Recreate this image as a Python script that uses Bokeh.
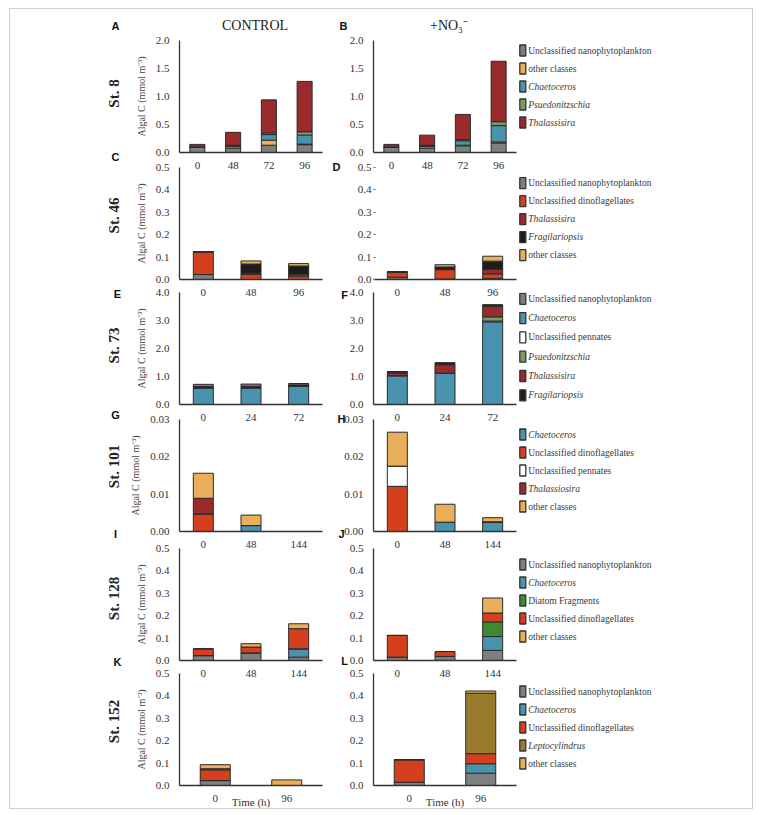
import math
from bokeh.plotting import figure
from bokeh.models import (FactorRange, Range1d, FixedTicker, NumeralTickFormatter,
                          ColumnDataSource)
from bokeh.layouts import row, column
from bokeh.core.properties import value
from bokeh.embed import file_html
from bokeh.resources import INLINE

# ---------------------------------------------------------------- data
# St. 8
st8_times = ["0", "48", "72", "96"]
st8_order = ["nano", "other", "chaet", "pseudo", "thal"]
st8_control = {"nano": [0.10, 0.08, 0.13, 0.14], "other": [0.0, 0.03, 0.09, 0.01],
               "chaet": [0.0, 0.01, 0.10, 0.16], "pseudo": [0.0, 0.01, 0.03, 0.06],
               "thal": [0.045, 0.23, 0.59, 0.90]}
st8_no3 = {"nano": [0.10, 0.08, 0.12, 0.17], "other": [0.0, 0.03, 0.01, 0.02],
           "chaet": [0.0, 0.01, 0.08, 0.29], "pseudo": [0.0, 0.01, 0.02, 0.07],
           "thal": [0.045, 0.18, 0.45, 1.08]}
st8_yticks = [0.0, 0.5, 1.0, 1.5, 2.0]
st8_legend_keys = ["nano", "other", "chaet", "pseudo", "thal"]
st8_legend_labels = ["Unclassified nanophytoplankton", "other classes", "Chaetoceros",
                     "Psuedonitzschia", "Thalassisira"]

# St. 46
st46_times = ["0", "48", "96"]
st46_order = ["nano", "dino", "thal", "frag", "other"]
st46_control = {"nano": [0.022, 0.0, 0.0], "dino": [0.100, 0.024, 0.015],
                "thal": [0.003, 0.005, 0.009], "frag": [0.0, 0.040, 0.036],
                "other": [0.0, 0.014, 0.011]}
st46_no3 = {"nano": [0.010, 0.002, 0.005], "dino": [0.022, 0.042, 0.020],
            "thal": [0.002, 0.002, 0.020], "frag": [0.0, 0.010, 0.037],
            "other": [0.0, 0.010, 0.022]}
st46_yticks = [0.0, 0.1, 0.2, 0.3, 0.4, 0.5]
st46_legend_keys = ["nano", "dino", "thal", "frag", "other"]
st46_legend_labels = ["Unclassified nanophytoplankton", "Unclassified dinoflagellates",
                      "Thalassisira", "Fragilariopsis", " other classes"]

# St. 73
st73_times = ["0", "24", "72"]
st73_order = ["chaet", "penn", "pseudo", "thal", "frag", "nano"]
st73_control = {"chaet": [0.60, 0.60, 0.66], "penn": [0.0, 0.0, 0.0],
                "pseudo": [0.0, 0.0, 0.0], "thal": [0.0, 0.0, 0.0],
                "frag": [0.04, 0.05, 0.04], "nano": [0.08, 0.08, 0.05]}
st73_no3 = {"chaet": [1.03, 1.12, 2.95], "penn": [0.0, 0.0, 0.03],
            "pseudo": [0.0, 0.0, 0.15], "thal": [0.10, 0.30, 0.38],
            "frag": [0.04, 0.06, 0.04], "nano": [0.01, 0.01, 0.01]}
st73_yticks = [0.0, 1.0, 2.0, 3.0, 4.0]
st73_legend_keys = ["nano", "chaet", "penn", "pseudo", "thal", "frag"]
st73_legend_labels = ["Unclassified nanophytoplankton", "Chaetoceros", "Unclassified pennates",
                      "Psuedonitzschia", "Thalassisira", "Fragilariopsis"]

# St. 101
st101_times = ["0", "48", "144"]
st101_order = ["chaet", "dino", "penn", "thal", "other"]
st101_control = {"chaet": [0.0, 0.0016, 0.0], "dino": [0.0047, 0.0, 0.0],
                 "penn": [0.0, 0.0, 0.0], "thal": [0.0042, 0.0, 0.0],
                 "other": [0.0067, 0.0028, 0.0]}
st101_no3 = {"chaet": [0.0, 0.0025, 0.0025], "dino": [0.0121, 0.0, 0.0],
             "penn": [0.0054, 0.0, 0.0], "thal": [0.0, 0.0, 0.0001],
             "other": [0.0091, 0.0048, 0.0011]}
st101_yticks = [0.0, 0.01, 0.02, 0.03]
st101_legend_keys = ["chaet", "dino", "penn", "thal", "other"]
st101_legend_labels = ["Chaetoceros", "Unclassified dinoflagellates", "Unclassified pennates",
                       "Thalassiosira", " other classes"]

# St. 128
st128_times = ["0", "48", "144"]
st128_order = ["nano", "chaet", "diatom", "dino", "other"]
st128_control = {"nano": [0.022, 0.034, 0.015], "chaet": [0.0, 0.0, 0.037],
                 "diatom": [0.0, 0.0, 0.0], "dino": [0.030, 0.026, 0.090],
                 "other": [0.0, 0.015, 0.022]}
st128_no3 = {"nano": [0.015, 0.018, 0.045], "chaet": [0.0, 0.0, 0.062],
             "diatom": [0.0, 0.0, 0.065], "dino": [0.097, 0.022, 0.040],
             "other": [0.0, 0.0, 0.067]}
st128_yticks = [0.0, 0.1, 0.2, 0.3, 0.4, 0.5]
st128_legend_keys = ["nano", "chaet", "diatom", "dino", "other"]
st128_legend_labels = ["Unclassified nanophytoplankton", "Chaetoceros", "Diatom Fragments",
                       "Unclassified dinoflagellates", " other classes"]

# St. 152
st152_times = ["0", "96"]
st152_order = ["nano", "chaet", "dino", "lepto", "other"]
st152_control = {"nano": [0.022, 0.0], "chaet": [0.0, 0.0], "dino": [0.048, 0.0],
                 "lepto": [0.005, 0.0], "other": [0.018, 0.025]}
st152_no3 = {"nano": [0.015, 0.055], "chaet": [0.0, 0.042], "dino": [0.100, 0.045],
             "lepto": [0.0, 0.270], "other": [0.0, 0.010]}
st152_yticks = [0.0, 0.1, 0.2, 0.3, 0.4, 0.5]
st152_legend_keys = ["nano", "chaet", "dino", "lepto", "other"]
st152_legend_labels = ["Unclassified nanophytoplankton", "Chaetoceros",
                       "Unclassified dinoflagellates", "Leptocylindrus", " other classes"]

station_names = ["St. 8", "St. 46", "St. 73", "St. 101", "St. 128", "St. 152"]
panel_letters = [("A", "B"), ("C", "D"), ("E", "F"), ("G", "H"), ("I", "J"), ("K", "L")]
column_titles = ["CONTROL", "+NO\u2083\u207b"]
y_axis_title = "Algal C (mmol m\u207b\u00b3)"
x_axis_title = "Time (h)"

ITALIC = {"chaet", "pseudo", "thal", "frag", "lepto"}

COLORS = {"nano": "#7c807f", "other": "#eaaf5a", "chaet": "#4a93ae", "pseudo": "#7e9a63",
          "thal": "#9b2a2c", "dino": "#d4401e", "frag": "#1c1c1c", "penn": "#ffffff",
          "diatom": "#3d8a33", "lepto": "#9a7b2c"}

# ---------------------------------------------------------------- styling / layout
SERIF = "Liberation Serif"
SANS = "Liberation Sans"
AXIS = "#333333"
TXT = "#333333"
EDGE = "#2b2b2b"

BX, BY = 9, 8                  # page position of outer border line
PX0, PY0 = BX + 1, BY + 1      # page position of content origin
FH = 112
FRAME_TOP = [40, 167, 292, 419, 548, 673]
TOPB = [FRAME_TOP[0] - PY0, 20, 20, 20, 20, 20]
BOTB = [20, 20, 20, 20, 20, 23]
LEFT_W, RIGHT_W, LEG_W = 330, 178, 234
L_BL, L_BR = 179 - PX0, 18
R_BL, R_BR = 33, 2
TOTAL_W = LEFT_W + RIGHT_W + LEG_W
TOTAL_H = FRAME_TOP[-1] + FH + BOTB[-1] - PY0

L_CX = 179 + (LEFT_W - L_BL - L_BR) / 2          # control frame centre (page x)
R_CX = PX0 + LEFT_W + R_BL + (RIGHT_W - R_BL - R_BR) / 2
ST_POS = [(113, 93), (113, 215), (113, 345), (113, 466), (113, 598), (113, 721)]
LEFT_LETTER = [(115, 25), (115, 156), (117, 293), (115, 414), (115, 533), (117, 661)]
RIGHT_LETTER = [(343, 25), (336, 166), (344, 294), (341, 418), (341, 533), (344, 660)]
TITLE_Y = 25
TIME_Y = 801
LEG_START = [(10, 18), (15.7, 18), (6.3, 19.3), (15, 18), (16, 18), (18, 18)]
BAR_W = 0.42

stations = [
    (st8_times, st8_order, st8_control, st8_no3, st8_yticks, "0.0", st8_legend_keys, st8_legend_labels),
    (st46_times, st46_order, st46_control, st46_no3, st46_yticks, "0.0", st46_legend_keys, st46_legend_labels),
    (st73_times, st73_order, st73_control, st73_no3, st73_yticks, "0.0", st73_legend_keys, st73_legend_labels),
    (st101_times, st101_order, st101_control, st101_no3, st101_yticks, "0.00", st101_legend_keys, st101_legend_labels),
    (st128_times, st128_order, st128_control, st128_no3, st128_yticks, "0.0", st128_legend_keys, st128_legend_labels),
    (st152_times, st152_order, st152_control, st152_no3, st152_yticks, "0.0", st152_legend_keys, st152_legend_labels),
]


def clear(p):
    p.background_fill_color = None
    p.border_fill_color = None
    p.outline_line_color = None
    p.grid.visible = False


def bar_panel(times, order, vals, ticks, fmt, width, bl, br, bt, bb, ylabel=None, dotted=False):
    p = figure(width=width, height=bt + FH + bb, x_range=FactorRange(*times),
               y_range=Range1d(ticks[0], ticks[-1]), output_backend="svg",
               toolbar_location=None, min_border_left=bl, min_border_right=br,
               min_border_top=bt, min_border_bottom=bb)
    clear(p)
    src = ColumnDataSource(dict(x=times, **{k: vals[k] for k in order}))
    p.vbar_stack(order, x="x", width=BAR_W, source=src,
                 fill_color=[COLORS[k] for k in order], line_color=EDGE, line_width=1)
    xa = p.xaxis[0]
    xa.major_tick_line_color = None
    xa.minor_tick_line_color = None
    xa.axis_line_color = AXIS
    xa.axis_line_width = 1.3
    xa.major_label_text_font = SERIF
    xa.major_label_text_font_size = "11px"
    xa.major_label_text_color = TXT
    xa.major_label_standoff = 3
    ya = p.yaxis[0]
    ya.ticker = FixedTicker(ticks=ticks)
    ya.formatter = NumeralTickFormatter(format=fmt)
    ya.minor_tick_line_color = None
    ya.major_label_text_font = SERIF
    ya.major_label_text_font_size = "11px"
    ya.major_label_text_color = TXT
    if dotted:
        ya.axis_line_color = None
        ya.major_tick_in = 2
        ya.major_tick_out = 0
        ya.major_tick_line_color = "#666666"
        ya.major_label_standoff = 2
    else:
        ya.axis_line_color = AXIS
        ya.axis_line_width = 1.3
        ya.major_tick_line_color = None
        ya.major_label_standoff = 4
    if ylabel:
        ya.axis_label = ylabel
        ya.axis_label_text_font = SERIF
        ya.axis_label_text_font_size = "10px"
        ya.axis_label_text_font_style = "normal"
        ya.axis_label_text_color = "#444444"
        ya.axis_label_standoff = 6
    return p


def legend_panel(keys, labels, start, step, bt, bb):
    n = len(keys)
    ys = [start + k * step for k in range(n)]
    src = ColumnDataSource(dict(
        sx=[4.3] * n, tx=[9.7] * n, y=ys,
        fill_col=[COLORS[k] for k in keys], label=labels,
        fstyle=["italic" if k in ITALIC else "normal" for k in keys]))
    p = figure(width=LEG_W, height=bt + FH + bb, x_range=Range1d(0, LEG_W),
               y_range=Range1d(FH, 0), x_axis_type=None, y_axis_type=None,
               output_backend="svg", toolbar_location=None, min_border_left=0,
               min_border_right=0, min_border_top=bt, min_border_bottom=bb)
    clear(p)
    p.rect(x="sx", y="y", width=6, height=11, width_units="screen", height_units="screen",
           fill_color="fill_col", line_color="#333333", line_width=1.3, source=src)
    p.text(x="tx", y="y", text="label", text_font=value(SERIF), text_font_size=value("9.5px"),
           text_font_style="fstyle", text_baseline="middle", text_align="left",
           text_color="#3a3a3a", source=src)
    return p


rows = []
for i, (times, order, ctrl, no3, ticks, fmt, lkeys, llabels) in enumerate(stations):
    bt, bb = TOPB[i], BOTB[i]
    pl = bar_panel(times, order, ctrl, ticks, fmt, LEFT_W, L_BL, L_BR, bt, bb, ylabel=y_axis_title)
    pr = bar_panel(times, order, no3, ticks, fmt, RIGHT_W, R_BL, R_BR, bt, bb, dotted=(i == 1))
    pg = legend_panel(lkeys, llabels, LEG_START[i][0], LEG_START[i][1], bt, bb)
    styles = {}
    if i > 0:
        prev_bottom = FRAME_TOP[i - 1] + FH + BOTB[i - 1]
        styles = {"margin-top": f"{(FRAME_TOP[i] - bt) - prev_bottom}px"}
    rows.append(row(pl, pr, pg, styles=styles))

# ---------------------------------------------------------------- text overlay (page coordinates)
ov = figure(width=TOTAL_W, height=TOTAL_H, x_range=Range1d(PX0, PX0 + TOTAL_W),
            y_range=Range1d(PY0 + TOTAL_H, PY0), x_axis_type=None, y_axis_type=None,
            output_backend="svg", toolbar_location=None, min_border=0)
clear(ov)
ov.text(x=[p[0] for p in ST_POS], y=[p[1] for p in ST_POS], text=station_names,
        angle=math.pi / 2, text_font=value(SERIF), text_font_size=value("15px"),
        text_font_style="bold", text_align="center", text_baseline="middle",
        text_color="#222222")
ov.text(x=[p[0] for p in LEFT_LETTER] + [p[0] for p in RIGHT_LETTER],
        y=[p[1] for p in LEFT_LETTER] + [p[1] for p in RIGHT_LETTER],
        text=[l[0] for l in panel_letters] + [l[1] for l in panel_letters],
        text_font=value(SANS), text_font_size=value("11px"), text_font_style="bold",
        text_align="center", text_baseline="middle", text_color="#111111")
ov.text(x=[L_CX + 4, R_CX + 4], y=[TITLE_Y, TITLE_Y], text=column_titles,
        text_font=value(SERIF), text_font_size=value("14px"), text_align="center",
        text_baseline="middle", text_color="#222222")
ov.text(x=[L_CX, R_CX], y=[TIME_Y, TIME_Y], text=[x_axis_title, x_axis_title],
        text_font=value(SERIF), text_font_size=value("11px"), text_align="center",
        text_baseline="middle", text_color="#333333")
ov_row = row(ov, styles={"margin-top": f"-{TOTAL_H}px"})

layout = column(*rows, ov_row, styles={"border": "1px solid #cfcfcf",
                                        "margin-left": f"{BX}px", "margin-top": f"{BY}px"})

open("out.html", "w").write(file_html(layout, INLINE))
